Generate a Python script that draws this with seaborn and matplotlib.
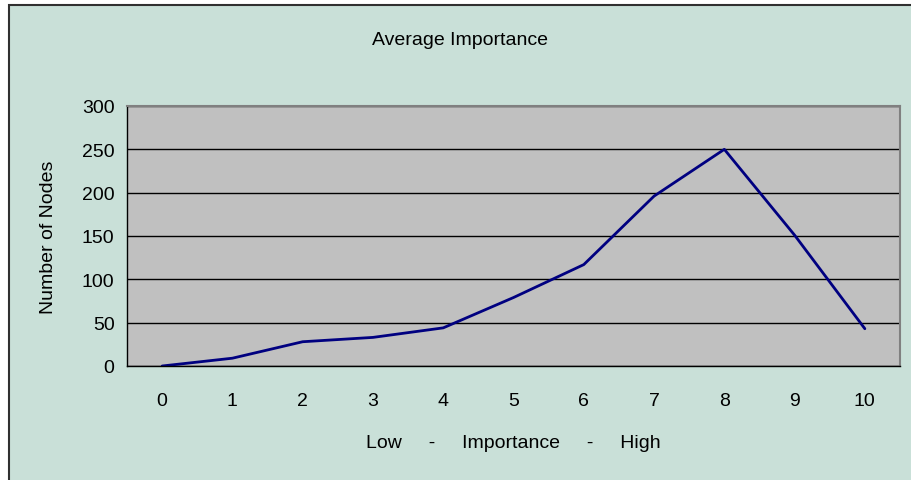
import matplotlib
matplotlib.use("Agg")
import matplotlib.pyplot as plt
import seaborn as sns
import pandas as pd
from matplotlib.patches import Rectangle

# values
importance = [0, 1, 2, 3, 4, 5, 6, 7, 8, 9, 10]
nodes = [0, 9, 28, 33, 44, 79, 117, 196, 250, 151, 43]
tick_labels = [str(i) for i in importance]

df = pd.DataFrame({"importance": importance, "nodes": nodes})

sns.set_style("white")
plt.rcParams["font.family"] = ["Liberation Sans", "DejaVu Sans"]
plt.rcParams["text.color"] = "black"
plt.rcParams["axes.labelcolor"] = "black"
plt.rcParams["xtick.color"] = "black"
plt.rcParams["ytick.color"] = "black"

W, H = 911, 481
fig = plt.figure(figsize=(W / 100, H / 100), dpi=100)
fig.patch.set_facecolor("white")

# outer chart area with its frame (cut off at right and bottom, as in the reference)
fig.patches.append(Rectangle((8.5 / W, -0.02), 1.0, 1 - 5.5 / H + 0.02, transform=fig.transFigure,
                             facecolor="#C9E0D8", edgecolor="#303030", linewidth=1.5, zorder=-10))

ax = fig.add_axes([127 / W, (H - 367) / H, (900 - 127) / W, (367 - 107) / H])
ax.set_facecolor("#C0C0C0")

sns.lineplot(data=df, x="importance", y="nodes", color="#000080", linewidth=2, ax=ax)

ax.set_ylim(0, 300)
ax.set_yticks(range(0, 301, 50))
ax.set_xlim(-0.5, 10.5)
ax.set_xticks([i - 0.5 for i in range(12)])
ax.set_xticklabels([])
ax.set_xticks(importance, minor=True)
ax.set_xticklabels(tick_labels, minor=True)
ax.tick_params(axis="x", which="major", direction="out", length=5, width=1)
ax.tick_params(axis="x", which="minor", length=0, pad=19, labelsize=14)
ax.tick_params(axis="y", direction="out", length=5, width=1, labelsize=14, pad=4)

ax.yaxis.grid(True, color="black", linewidth=1)
ax.set_axisbelow(True)

for side in ["top", "right"]:
    ax.spines[side].set_visible(True)
    ax.spines[side].set_color("#808080")
    ax.spines[side].set_linewidth(1.5)
for side in ["left", "bottom"]:
    ax.spines[side].set_color("black")
    ax.spines[side].set_linewidth(1)

ax.set_xlabel("Low     -     Importance     -     High", fontsize=14, labelpad=18)
ax.set_ylabel("Number of Nodes", fontsize=14, labelpad=18)
fig.text(460 / W, 1 - 41 / H, "Average Importance", ha="center", va="center", fontsize=14)

fig.savefig("out.png", dpi=100, facecolor=fig.get_facecolor())
plt.close(fig)
